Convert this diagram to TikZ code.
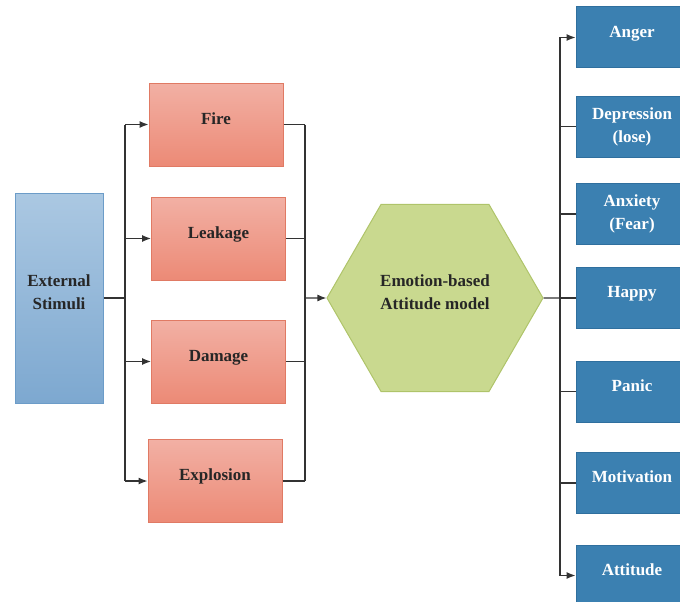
\documentclass[tikz,border=0pt]{standalone}
\usepackage{fontspec}
\setmainfont{Liberation Serif}
\usetikzlibrary{shapes.geometric,arrows.meta}
\definecolor{stimtop}{HTML}{ABC8E2}
\definecolor{stimbot}{HTML}{7DA8D0}
\definecolor{stimline}{HTML}{6C9CC8}
\definecolor{haztop}{HTML}{F2B0A4}
\definecolor{hazbot}{HTML}{EC8A76}
\definecolor{hazline}{HTML}{E07A64}
\definecolor{emofill}{HTML}{C9D98F}
\definecolor{emoline}{HTML}{AFC46A}
\definecolor{outfill}{HTML}{3B80B1}
\definecolor{outline}{HTML}{2F6F9E}
\begin{document}
\begin{tikzpicture}[x=1pt,y=-1pt, >={Latex[length=9pt,width=7pt]},
    line width=1.2pt, color=black!80,
    lbl/.style={font=\fontsize{17}{23}\selectfont\bfseries, align=center},
    raised/.style={text depth=12pt},
    stimbox/.style={lbl, raised, draw=stimline, line width=1pt, top color=stimtop, bottom color=stimbot,
        minimum width=88pt, minimum height=210pt, text=black!85},
    hazbox/.style={lbl, raised, draw=hazline, line width=1pt, top color=haztop, bottom color=hazbot,
        minimum width=134pt, minimum height=83pt, text=black!85},
    emohex/.style={lbl, raised, draw=emoline, line width=1pt, fill=emofill, regular polygon,
        regular polygon sides=6, minimum size=216pt, inner sep=0pt, text=black!85},
    outbox/.style={lbl, draw=outline, line width=1pt, fill=outfill,
        minimum width=112pt, minimum height=61pt, text=white}]
  \useasboundingbox (0,0) rectangle (680,602);
  % input side
  \node[stimbox] (stim) at (59,298) {External\\Stimuli};
  \node[hazbox] (fire) at (216,124.5) {Fire};
  \node[hazbox] (leak) at (218.5,238.5) {Leakage};
  \node[hazbox] (dmg) at (218.5,361.5) {Damage};
  \node[hazbox] (expl) at (215,481) {Explosion};
  % model
  \node[emohex] (emo) at (435,298) {Emotion-based\\Attitude model};
  % output side
  \node[outbox, raised] (anger) at (632,37.5) {Anger};
  \node[outbox] (depr) at (632,126.5) {Depression\\(lose)};
  \node[outbox] (anx) at (632,214) {Anxiety\\(Fear)};
  \node[outbox, raised] (happy) at (632,298) {Happy};
  \node[outbox, raised] (panic) at (632,391.5) {Panic};
  \node[outbox, raised] (motiv) at (632,483) {Motivation};
  \node[outbox, raised] (att) at (632,575.5) {Attitude};
  % bus lines
  \coordinate (lb) at (125,298);
  \coordinate (rb) at (305,298);
  \coordinate (ob) at (560,298);
  \draw (stim.east) -- (lb);
  \draw (lb |- fire.west) -- (lb |- expl.west);
  \draw [->] (lb |- fire.west) -- (fire.west);
  \draw [->] (lb |- leak.west) -- (leak.west);
  \draw [->] (lb |- dmg.west) -- (dmg.west);
  \draw [->] (lb |- expl.west) -- (expl.west);
  \draw (fire.east) -- (rb |- fire.east);
  \draw (leak.east) -- (rb |- leak.east);
  \draw (dmg.east) -- (rb |- dmg.east);
  \draw (expl.east) -- (rb |- expl.east);
  \draw (rb |- fire.east) -- (rb |- expl.east);
  \draw [->] (rb) -- (emo.west);
  \draw (emo.east) -- (ob);
  \draw (ob |- anger.west) -- (ob |- att.west);
  \draw [->] (ob |- anger.west) -- (anger.west);
  \draw (ob |- depr.west) -- (depr.west);
  \draw (ob |- anx.west) -- (anx.west);
  \draw (ob |- happy.west) -- (happy.west);
  \draw (ob |- panic.west) -- (panic.west);
  \draw (ob |- motiv.west) -- (motiv.west);
  \draw [->] (ob |- att.west) -- (att.west);
\end{tikzpicture}
\end{document}
